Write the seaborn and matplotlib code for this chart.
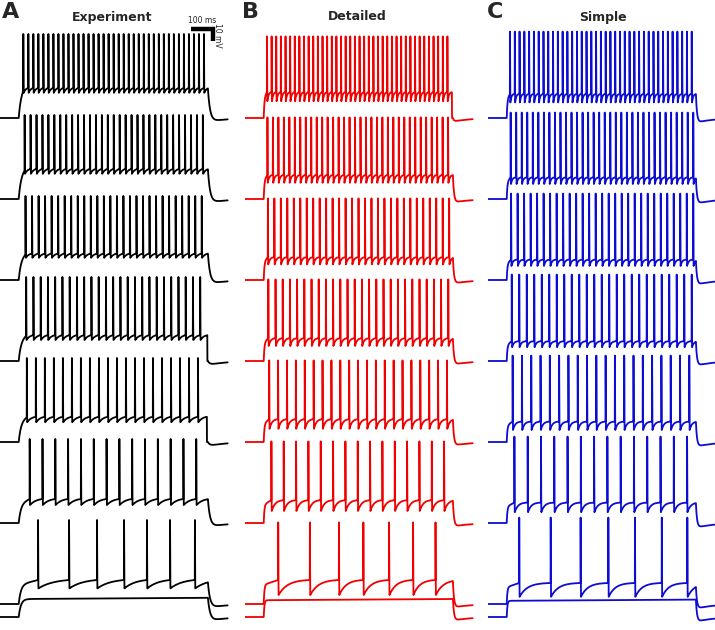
import numpy as np
import pandas as pd
import matplotlib
matplotlib.use("Agg")
import matplotlib.pyplot as plt
import seaborn as sns

sns.set_style("white")
plt.rcParams['font.family'] = ['DejaVu Sans']

# --- values (times in ms, voltages in mV above rest) ---
panels = ["Experiment", "Detailed", "Simple"]
letters = ["A", "B", "C"]
colors = ["black", "#f00000", "#0c0cd2"]

# traces 1-6 (strongest current first): spike count, first and last spike
exp_count = [37, 31, 28, 25, 20, 14]
exp_first = [106, 112, 116, 119, 122, 135]
exp_last = [927, 922, 917, 910, 900, 892]
exp_weak = [173, 314, 441, 564, 668, 773, 886]       # trace 7 spike times
exp_trough = [21, 21, 18.5, 17.5, 16.5, 15, 13]
exp_thresh = [25, 25, 22, 21.5, 21, 20, 20]

det_count = [40, 34, 29, 26, 21, 15]
det_first = [100, 102, 104, 106, 110, 120]
det_last = [920, 923, 928, 924, 918, 905]
det_weak = [151, 295, 427, 538, 655, 764, 866]
det_trough = [14, 13.5, 13, 12.5, 11, 10, 7.5]
det_thresh = [21.5, 20, 19, 19, 19, 19, 20]

sim_count = [39, 34, 29, 25, 20, 14]
sim_first = [100, 103, 105, 108, 112, 120]
sim_last = [926, 933, 933, 926, 915, 905]
sim_weak = [142, 285, 421, 547, 668, 790, 906]
sim_trough = [13, 12.5, 11.7, 11.5, 10, 9, 6]
sim_thresh = [20, 18, 17, 16.5, 17, 17, 17.5]

spike_peak = [70, 68, 72]
sub_plateau = [15, 14, 13.5]       # bottom, subthreshold step
undershoot = [3.5, 3, 4]

STEP_ON, STEP_OFF, T_END = 85, 945, 1035

# --- drawing style / layout ---
PX_PER_MS = 0.22
PX_PER_MV = 1.2
W, H = 715, 630
col_left = [0, 245, 488]
col_width = 230
base_top, base_gap, sub_gap = 118, 81, 13
shape_k = [2.0, 3.5, 4.0]
tau_on = [10, 3, 3]
tau_off = [10, 5, 5]
RISE, FALL, DT = 0.6, 1.6, 0.2

t = np.arange(0, T_END, DT)


def offset_decay(v, tau, under):
    i_off = np.searchsorted(t, STEP_OFF)
    v_off = v[i_off - 1]
    s = t[i_off:] - STEP_OFF
    v[i_off:] = v_off * np.exp(-s / tau) - under * (1 - np.exp(-s / tau)) * np.exp(-s / 80)
    return v


def spiking_trace(spikes, trough, thresh, peak, k, ton, toff, under):
    # snap spike times onto the sample grid so every peak is drawn at full height
    idx = np.round(np.asarray(spikes, float) / DT).astype(int)
    spikes = t[idx]
    v = np.zeros_like(t)
    t1 = spikes[0]
    m = (t >= STEP_ON) & (t < t1 - RISE)
    s = t[m] - STEP_ON
    pre = 0.8 * thresh
    v[m] = pre * (1 - np.exp(-s / ton)) + (thresh - pre) * s / (t1 - RISE - STEP_ON)
    isi = np.diff(spikes).mean()
    nxt = np.append(spikes[1:], spikes[-1] + isi)
    for i, ts, tn in zip(idx, spikes, nxt):
        m = (t >= ts - RISE) & (t < ts)
        v[m] = thresh + (peak - thresh) * (t[m] - ts + RISE) / RISE
        m = (t > ts) & (t < ts + FALL)
        v[m] = peak + (trough - peak) * (t[m] - ts) / FALL
        a, b = ts + FALL, tn - RISE
        m = (t >= a) & (t < min(b, STEP_OFF))
        u = (t[m] - a) / (b - a)
        v[m] = trough + (thresh - trough) * (1 - np.exp(-k * u)) / (1 - np.exp(-k))
        v[i] = peak
    return offset_decay(v, toff, under)


def sub_trace(plateau, ton, toff, under):
    v = np.zeros_like(t)
    m = (t >= STEP_ON) & (t < STEP_OFF)
    s = t[m] - STEP_ON
    v[m] = plateau * (1 - np.exp(-s / ton)) + 1.0 * s / (STEP_OFF - STEP_ON)
    return offset_decay(v, toff, under)


columns = [
    (exp_count, exp_first, exp_last, exp_weak, exp_trough, exp_thresh),
    (det_count, det_first, det_last, det_weak, det_trough, det_thresh),
    (sim_count, sim_first, sim_last, sim_weak, sim_trough, sim_thresh),
]

fig = plt.figure(figsize=(W / 100, H / 100), dpi=100)

for c, (count, first, last, weak, trough, thresh) in enumerate(columns):
    trains = [np.linspace(f, l, n) for n, f, l in zip(count, first, last)] + [weak]
    frames = []
    for i, sp in enumerate(trains):
        v = spiking_trace(sp, trough[i], thresh[i], spike_peak[c], shape_k[c],
                          tau_on[c], tau_off[c], undershoot[c])
        base = -(base_top + i * base_gap) / PX_PER_MV
        frames.append(pd.DataFrame({"t": t, "v": v + base, "trace": i}))
    v = sub_trace(sub_plateau[c], tau_on[c], tau_off[c], undershoot[c])
    base = -(base_top + 6 * base_gap + sub_gap) / PX_PER_MV
    frames.append(pd.DataFrame({"t": t, "v": v + base, "trace": 7}))
    df = pd.concat(frames, ignore_index=True)

    ax = fig.add_axes([col_left[c] / W, 0, col_width / W, 1])
    sns.lineplot(data=df, x="t", y="v", units="trace", estimator=None, sort=False,
                 color=colors[c], linewidth=1.3, legend=False, ax=ax)
    ax.set_xlim(0, col_width / PX_PER_MS)
    ax.set_ylim(-H / PX_PER_MV, 0)
    ax.set_axis_off()

    if c == 0:
        # scale bar: 100 ms, 10 mV
        x1 = 968
        y0 = -29 / PX_PER_MV
        ax.plot([x1 - 100, x1, x1], [y0, y0, y0 - 10], color="black", lw=3.2,
                solid_joinstyle="miter", solid_capstyle="butt")
        ax.text(x1 - 50, y0 + 3.5, "100 ms", ha="center", va="bottom", fontsize=5.5)
        ax.text(x1 + 22, y0 - 5, "10 mV", ha="center", va="center", fontsize=5.5,
                rotation=-90)

label_x = [11, 250, 495]
title_x = [112, 357, 603]
for c in range(3):
    fig.text(label_x[c] / W, 1 - 12 / H, letters[c], fontsize=16, fontweight="bold",
             ha="center", va="center")
    fig.text(title_x[c] / W, 1 - 17 / H, panels[c], fontsize=9, fontweight="bold",
             ha="center", va="center")

fig.savefig("out.png", dpi=100)
